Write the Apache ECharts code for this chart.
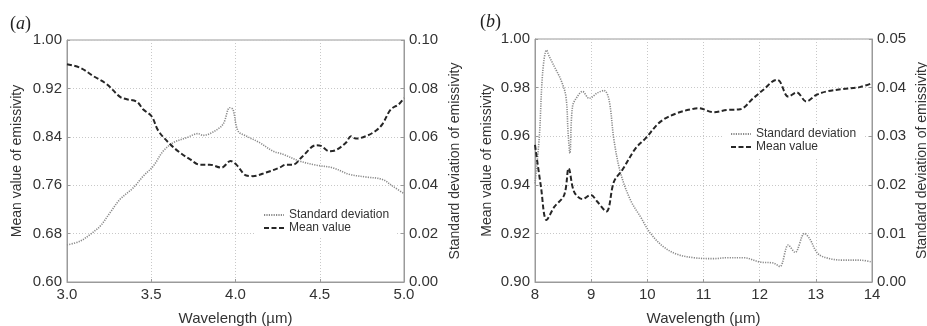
<!DOCTYPE html>
<html>
<head>
<meta charset="utf-8">
<script src="https://cdn.jsdelivr.net/npm/echarts@6/dist/echarts.min.js"></script>
<style>
  html, body { margin: 0; padding: 0; background: #fff; }
  #chart { width: 927px; height: 326px; }
</style>
</head>
<body>
<div id="chart"></div>
<script>
// panel (a): 3-5 um
const meanWaveA = [3.0, 3.079, 3.158, 3.236, 3.315, 3.355, 3.414, 3.453, 3.502, 3.542, 3.611, 3.67, 3.729, 3.788, 3.847, 3.916, 3.971, 4.005, 4.064, 4.103, 4.182, 4.261, 4.3, 4.34, 4.399, 4.478, 4.507, 4.557, 4.596, 4.655, 4.685, 4.714, 4.773, 4.833, 4.872, 4.921, 4.97, 5.0];
const meanA = [0.960, 0.954, 0.940, 0.927, 0.906, 0.902, 0.898, 0.885, 0.874, 0.850, 0.828, 0.814, 0.803, 0.794, 0.794, 0.789, 0.800, 0.794, 0.776, 0.775, 0.781, 0.789, 0.794, 0.794, 0.808, 0.826, 0.825, 0.816, 0.818, 0.830, 0.841, 0.837, 0.841, 0.850, 0.861, 0.885, 0.894, 0.904];
const stdWaveA = [3.0, 3.079, 3.138, 3.197, 3.256, 3.315, 3.394, 3.453, 3.512, 3.571, 3.631, 3.709, 3.778, 3.808, 3.867, 3.926, 3.966, 3.985, 4.015, 4.064, 4.143, 4.222, 4.281, 4.379, 4.478, 4.576, 4.675, 4.773, 4.872, 4.931, 5.0];
const stdA = [0.0153, 0.0169, 0.0197, 0.0231, 0.0287, 0.0342, 0.0390, 0.0438, 0.0479, 0.0541, 0.0576, 0.0596, 0.0613, 0.0606, 0.0620, 0.0652, 0.0720, 0.0713, 0.0624, 0.0603, 0.0576, 0.0541, 0.0528, 0.0500, 0.0483, 0.0472, 0.0445, 0.0434, 0.0424, 0.0397, 0.0365];

// panel (b): 8-14 um
const meanWaveB = [8.0, 8.106, 8.206, 8.343, 8.52, 8.6, 8.697, 8.845, 8.993, 9.111, 9.27, 9.406, 9.554, 9.791, 9.968, 10.234, 10.53, 10.825, 10.914, 11.18, 11.416, 11.652, 11.889, 12.066, 12.303, 12.36, 12.51, 12.66, 12.83, 13.01, 13.19, 13.48, 13.78, 14.0];
const meanB = [0.9564, 0.9392, 0.9255, 0.9309, 0.9358, 0.9468, 0.9371, 0.9341, 0.9358, 0.9330, 0.9290, 0.9413, 0.9461, 0.9550, 0.9591, 0.9660, 0.9695, 0.9713, 0.9715, 0.9699, 0.9708, 0.9711, 0.9757, 0.9791, 0.9832, 0.9825, 0.9763, 0.9780, 0.9743, 0.9770, 0.9784, 0.9794, 0.9802, 0.9818];
const stdWaveB = [8.0, 8.077, 8.136, 8.206, 8.254, 8.372, 8.461, 8.55, 8.59, 8.621, 8.668, 8.756, 8.845, 8.963, 9.111, 9.229, 9.318, 9.406, 9.524, 9.702, 9.879, 10.057, 10.293, 10.53, 10.825, 11.18, 11.416, 11.712, 12.008, 12.245, 12.36, 12.51, 12.63, 12.8, 12.89, 13.04, 13.25, 13.48, 13.78, 14.0];
const stdB = [0.0203, 0.0299, 0.0430, 0.0477, 0.0464, 0.0437, 0.0416, 0.0382, 0.0306, 0.0265, 0.0361, 0.0382, 0.0392, 0.0378, 0.0389, 0.0394, 0.0375, 0.0292, 0.0224, 0.0168, 0.0134, 0.0100, 0.0072, 0.0057, 0.0050, 0.0048, 0.0050, 0.0050, 0.0041, 0.0039, 0.0032, 0.0076, 0.0061, 0.0100, 0.0089, 0.0058, 0.0048, 0.0045, 0.0045, 0.0041];

const zip = (xs, ys) => xs.map((x, i) => [x, ys[i]]);

const FONT = '"Liberation Sans", Arial, sans-serif';
const TXT = '#333';
const AX = '#9a9a9a';
const grid = { lineStyle: { color: '#c8c8c8', type: [1, 2], width: 1 } };

function xAxis(gridIndex, min, max, interval, digits) {
  return {
    type: 'value', gridIndex, min, max, interval,
    name: 'Wavelength (\u00b5m)', nameLocation: 'middle', nameGap: 29,
    nameTextStyle: { fontFamily: FONT, fontSize: 15, color: TXT },
    axisLine: { lineStyle: { color: AX } },
    axisTick: { inside: true, length: 3, lineStyle: { color: AX } },
    axisLabel: { fontFamily: FONT, fontSize: 15, color: TXT, margin: 5,
      formatter: v => v.toFixed(digits) },
    splitLine: Object.assign({ show: true }, grid)
  };
}
function yAxis(gridIndex, pos, min, max, interval, name, gap, showSplit) {
  return {
    type: 'value', gridIndex, position: pos, min, max, interval,
    name, nameLocation: 'middle', nameGap: gap,
    nameTextStyle: { fontFamily: FONT, fontSize: 14, color: TXT },
    axisLine: { show: true, lineStyle: { color: AX } },
    axisTick: { show: true, inside: true, length: 3, lineStyle: { color: AX } },
    axisLabel: { fontFamily: FONT, fontSize: 15, color: TXT, margin: 5,
      formatter: v => v.toFixed(2) },
    splitLine: Object.assign({ show: showSplit }, grid)
  };
}

const stdStyle = { color: '#8a8a8a', width: 1.6, type: [1.2, 1.2] };
const meanStyle = { color: '#262626', width: 2, type: [5, 2.5] };

function series(name, xi, yi, data, style) {
  return {
    name, type: 'line', xAxisIndex: xi, yAxisIndex: yi, data,
    showSymbol: false, symbol: 'none', smooth: 0.35,
    lineStyle: style, itemStyle: { color: style.color }, z: name === 'Mean value' ? 3 : 2
  };
}

const legendBase = {
  orient: 'vertical', itemWidth: 20, itemHeight: 8, itemGap: 1,
  backgroundColor: '#fff', padding: [4, 8],
  itemStyle: { opacity: 0 },
  textStyle: { fontFamily: FONT, fontSize: 12, color: TXT },
  data: ['Standard deviation', 'Mean value']
};

const chart = echarts.init(document.getElementById('chart'), null, { renderer: 'canvas' });
chart.setOption({
  animation: false,
  backgroundColor: '#fff',
  title: [
    { text: '({i|a})', left: 5, top: 10,
      textStyle: { fontFamily: '"Liberation Serif", serif', fontSize: 18, fontWeight: 'normal', color: '#222',
        rich: { i: { fontFamily: '"Liberation Serif", serif', fontSize: 18, fontStyle: 'italic', color: '#222' } } } },
    { text: '({i|b})', left: 475, top: 8,
      textStyle: { fontFamily: '"Liberation Serif", serif', fontSize: 18, fontWeight: 'normal', color: '#222',
        rich: { i: { fontFamily: '"Liberation Serif", serif', fontSize: 18, fontStyle: 'italic', color: '#222' } } } }
  ],
  grid: [
    { left: 67, top: 40, width: 337, height: 242, show: true, borderColor: AX, borderWidth: 1, outerBoundsMode: 'none' },
    { left: 535, top: 39, width: 337, height: 243, show: true, borderColor: AX, borderWidth: 1, outerBoundsMode: 'none' }
  ],
  legend: [
    Object.assign({ left: 255, top: 205 }, legendBase),
    Object.assign({ left: 722, top: 124 }, legendBase)
  ],
  xAxis: [xAxis(0, 3, 5, 0.5, 1), xAxis(1, 8, 14, 1, 0)],
  yAxis: [
    yAxis(0, 'left', 0.6, 1.0, 0.08, 'Mean value of emissivity', 43, true),
    yAxis(0, 'right', 0, 0.1, 0.02, 'Standard deviation of emissivity', 44, false),
    yAxis(1, 'left', 0.9, 1.0, 0.02, 'Mean value of emissivity', 41, true),
    yAxis(1, 'right', 0, 0.05, 0.01, 'Standard deviation of emissivity', 43, false)
  ],
  series: [
    series('Standard deviation', 0, 1, zip(stdWaveA, stdA), stdStyle),
    series('Mean value', 0, 0, zip(meanWaveA, meanA), meanStyle),
    series('Standard deviation', 1, 3, zip(stdWaveB, stdB), stdStyle),
    series('Mean value', 1, 2, zip(meanWaveB, meanB), meanStyle)
  ]
});
</script>
</body>
</html>
